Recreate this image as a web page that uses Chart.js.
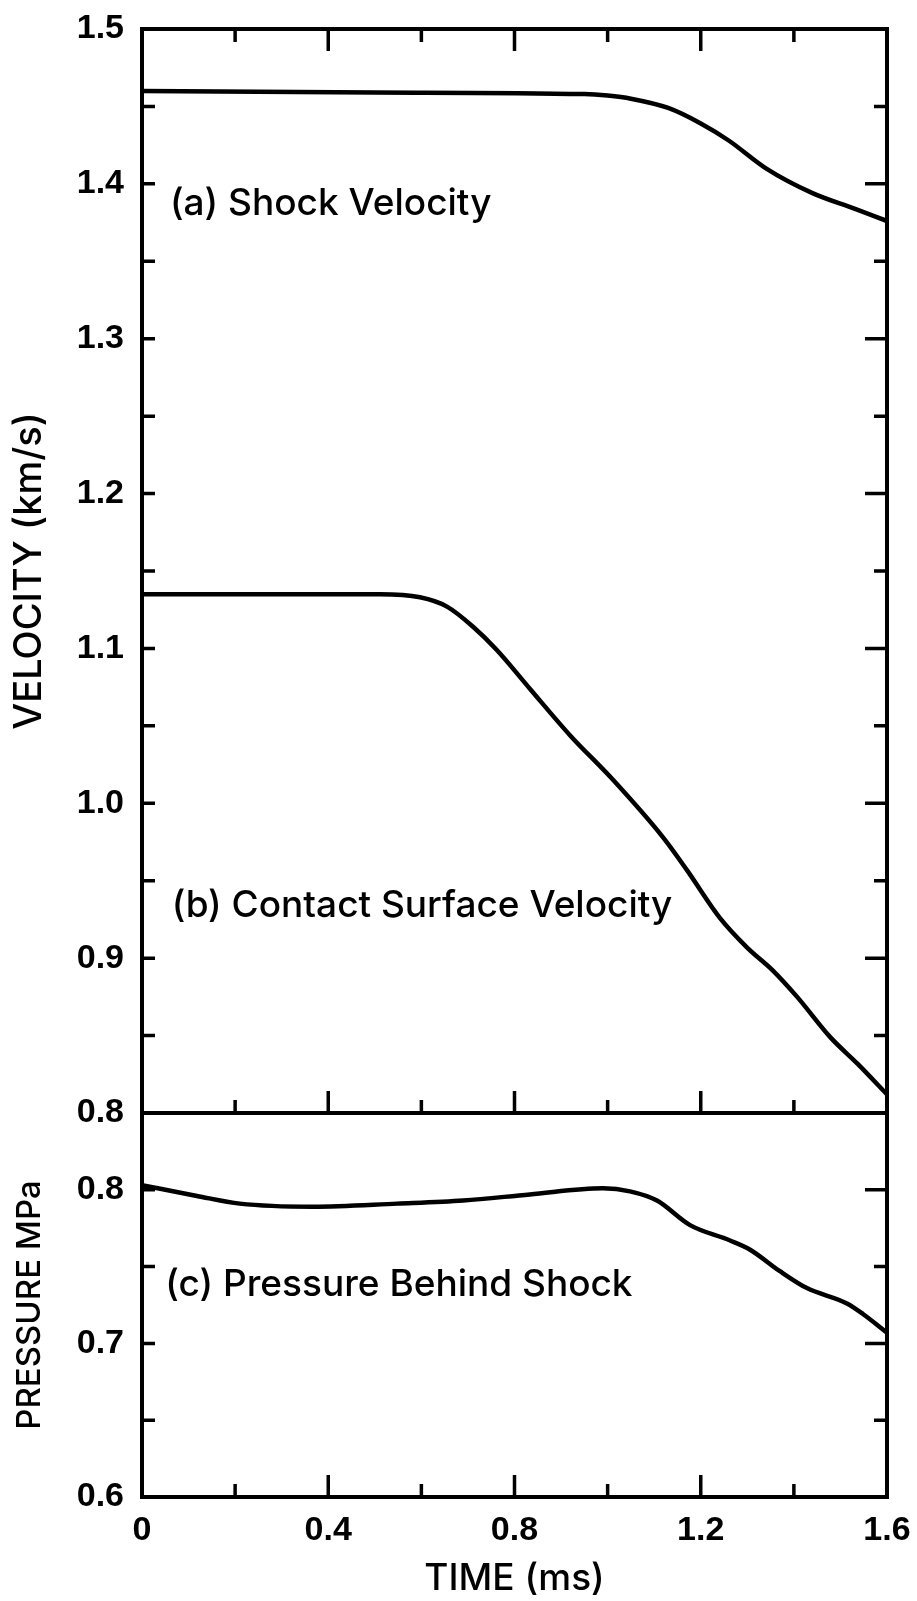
<!DOCTYPE html>
<html>
<head>
<meta charset="utf-8">
<title>Shock tube</title>
<script src="https://cdn.jsdelivr.net/npm/chart.js@4.4.0/dist/chart.umd.min.js"></script>
<style>
  body { margin: 0; background: #fff; }
  #wrap { position: relative; width: 917px; height: 1601px; background: #fff; }
  #velChart { position: absolute; left: 0; top: 0; }
  #presChart { position: absolute; left: 0; top: 1080px; }
</style>
</head>
<body>
<div id="wrap">
  <canvas id="velChart" width="917" height="1150"></canvas>
  <canvas id="presChart" width="917" height="521"></canvas>
</div>
<script>
// ===== data =====
const timeLabels = ["0", "0.4", "0.8", "1.2", "1.6"];
const velocityLabels = ["0.8", "0.9", "1.0", "1.1", "1.2", "1.3", "1.4", "1.5"];
const pressureLabels = ["0.6", "0.7", "0.8"];

// (a) shock velocity, km/s
const shockTime = [0, 0.5, 0.95, 1.0, 1.05, 1.13, 1.2, 1.26, 1.34, 1.44, 1.53, 1.6];
const shockVel = [1.46, 1.459, 1.458, 1.457, 1.455, 1.449, 1.439, 1.428, 1.41, 1.394, 1.384, 1.376];

// (b) contact surface velocity, km/s
const contactTime = [0, 0.3, 0.511, 0.597, 0.655, 0.711, 0.762, 0.833, 0.919, 1.012, 1.119, 1.17, 1.241, 1.299, 1.355, 1.407, 1.478, 1.536, 1.6];
const contactVel = [1.135, 1.135, 1.135, 1.133, 1.127, 1.114, 1.099, 1.074, 1.044, 1.015, 0.978, 0.957, 0.926, 0.907, 0.892, 0.875, 0.849, 0.832, 0.812];

// (c) pressure behind shock, MPa
const pressTime = [0, 0.118, 0.21, 0.367, 0.548, 0.69, 0.833, 0.99, 1.048, 1.106, 1.177, 1.263, 1.306, 1.37, 1.428, 1.514, 1.549, 1.6];
const pressVal = [0.803, 0.796, 0.791, 0.789, 0.791, 0.793, 0.797, 0.801, 0.799, 0.793, 0.777, 0.767, 0.761, 0.747, 0.736, 0.726, 0.719, 0.707];

const FONT = '"Liberation Sans", Arial, sans-serif';
const TEXT_FONT = 'Inter, "DejaVu Sans", sans-serif';

function pts(xs, ys) {
  return xs.map((t, i) => ({ x: t, y: ys[i] }));
}

function pickLabel(labels, v) {
  return labels.find((l) => Number(l).toFixed(2) === Number(v).toFixed(2)) || "";
}

function lineSet(data) {
  return {
    data: data,
    borderColor: "#000",
    borderWidth: 4.5,
    pointRadius: 0,
    fill: false,
    cubicInterpolationMode: "monotone",
  };
}

// y axis: fixed width, no extra edge padding from the labels
function fixY(s) {
  s.width = 142;
  s.paddingTop = 0;
  s.paddingBottom = 0;
}

// frame, inward ticks and the in-plot notes
const frameTicks = {
  id: "frameTicks",
  afterDatasetsDraw(chart, args, opts) {
    const ctx = chart.ctx;
    const a = chart.chartArea;
    const x = chart.scales.x;
    const y = chart.scales.y;
    ctx.save();
    ctx.strokeStyle = "#000";
    ctx.lineWidth = 3.5;

    x.ticks.forEach((t) => {
      const px = x.getPixelForValue(t.value);
      if (px <= a.left + 2 || px >= a.right - 2) return;
      const len = t.label ? 22 : 13;
      ctx.beginPath();
      if (opts.topTicks) {
        ctx.moveTo(px, a.top);
        ctx.lineTo(px, a.top + len);
      }
      ctx.moveTo(px, a.bottom);
      ctx.lineTo(px, a.bottom - len);
      ctx.stroke();
    });

    y.ticks.forEach((t) => {
      const py = y.getPixelForValue(t.value);
      if (py <= a.top + 2 || py >= a.bottom - 2) return;
      ctx.beginPath();
      ctx.moveTo(a.left, py);
      ctx.lineTo(a.left + 13, py);
      ctx.moveTo(a.right, py);
      ctx.lineTo(a.right - (t.label ? 22 : 13), py);
      ctx.stroke();
    });

    ctx.lineWidth = 4;
    ctx.strokeRect(a.left, a.top, a.right - a.left, a.bottom - a.top);

    ctx.fillStyle = "#000";
    ctx.font = "500 37px " + TEXT_FONT;
    ctx.textAlign = "left";
    ctx.textBaseline = "middle";
    (opts.notes || []).forEach((n) => {
      ctx.fillText(n.text, x.getPixelForValue(n.t), y.getPixelForValue(n.v));
    });
    ctx.restore();
  },
};

/* ===== VELOCITY PANEL ===== */
new Chart(document.getElementById("velChart"), {
  type: "line",
  data: {
    datasets: [lineSet(pts(shockTime, shockVel)), lineSet(pts(contactTime, contactVel))],
  },
  options: {
    responsive: false,
    animation: false,
    layout: { padding: { left: 0, right: 30, top: 29, bottom: 37 } },
    plugins: {
      legend: { display: false },
      tooltip: { enabled: false },
      frameTicks: {
        topTicks: true,
        notes: [
          { text: "(a) Shock Velocity", t: 0.06, v: 1.387 },
          { text: "(b) Contact Surface Velocity", t: 0.064, v: 0.934 },
        ],
      },
    },
    scales: {
      x: {
        type: "linear",
        min: 0,
        max: 1.6,
        grid: { display: false, drawTicks: false },
        border: { display: false },
        ticks: { display: false, stepSize: 0.2, callback: (v) => pickLabel(timeLabels, v) },
        afterFit: (s) => {
          s.height = 0;
          s.paddingLeft = 0;
          s.paddingRight = 0;
        },
      },
      y: {
        type: "linear",
        min: 0.8,
        max: 1.5,
        grid: { display: false, drawTicks: false },
        border: { display: false },
        ticks: {
          stepSize: 0.05,
          autoSkip: false,
          padding: 18,
          color: "#000",
          font: { family: FONT, size: 34, weight: "bold" },
          callback: (v) => pickLabel(velocityLabels, v),
        },
        title: {
          display: true,
          text: "VELOCITY (km/s)",
          color: "#000",
          font: { family: TEXT_FONT, size: 38, weight: 500 },
          padding: { top: 7, bottom: 0 },
        },
        afterFit: fixY,
      },
    },
  },
  plugins: [frameTicks],
});

/* ===== PRESSURE PANEL ===== */
new Chart(document.getElementById("presChart"), {
  type: "line",
  data: {
    datasets: [lineSet(pts(pressTime, pressVal))],
  },
  options: {
    responsive: false,
    animation: false,
    layout: { padding: { left: 0, right: 30, top: 33, bottom: 0 } },
    plugins: {
      legend: { display: false },
      tooltip: { enabled: false },
      frameTicks: {
        topTicks: false,
        notes: [{ text: "(c) Pressure Behind Shock", t: 0.05, v: 0.738 }],
      },
    },
    scales: {
      x: {
        type: "linear",
        min: 0,
        max: 1.6,
        grid: { display: false, drawTicks: false },
        border: { display: false },
        ticks: {
          stepSize: 0.2,
          autoSkip: false,
          maxRotation: 0,
          padding: 13,
          color: "#000",
          font: { family: FONT, size: 34, weight: "bold" },
          callback: (v) => pickLabel(timeLabels, v),
        },
        title: {
          display: true,
          text: "TIME (ms)",
          color: "#000",
          font: { family: TEXT_FONT, size: 37, weight: 500 },
          padding: { top: 0, bottom: 0 },
        },
        afterFit: (s) => {
          s.height = 104;
          s.paddingLeft = 0;
          s.paddingRight = 0;
        },
      },
      y: {
        type: "linear",
        min: 0.6,
        max: 0.85,
        grid: { display: false, drawTicks: false },
        border: { display: false },
        ticks: {
          stepSize: 0.05,
          autoSkip: false,
          padding: 18,
          color: "#000",
          font: { family: FONT, size: 34, weight: "bold" },
          callback: (v) => pickLabel(pressureLabels, v),
        },
        title: {
          display: true,
          text: "PRESSURE MPa",
          color: "#000",
          font: { family: TEXT_FONT, size: 33, weight: 500 },
          padding: { top: 10, bottom: 0 },
        },
        afterFit: fixY,
      },
    },
  },
  plugins: [frameTicks],
});
</script>
</body>
</html>
